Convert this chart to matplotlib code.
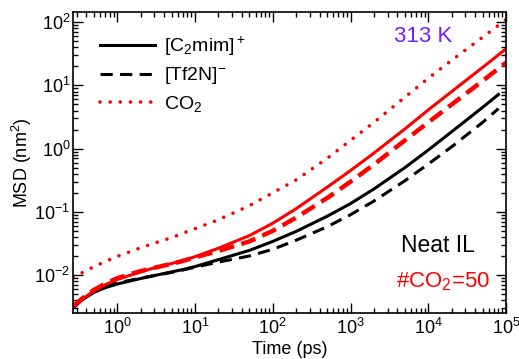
import matplotlib
matplotlib.use("Agg")
import matplotlib.pyplot as plt
from matplotlib.ticker import LogLocator, NullFormatter

plt.rcParams['font.family'] = ['Liberation Sans', 'DejaVu Sans']
plt.rcParams['mathtext.fontset'] = 'custom'
plt.rcParams['mathtext.rm'] = 'Liberation Sans'
plt.rcParams['mathtext.default'] = 'regular'

# MSD curves (nm^2) vs time (ps); the neat-IL runs stop at 8e4 ps
t_long = [0.27, 0.35, 0.5, 0.7, 1, 1.5, 2, 3, 5, 7, 10, 20, 50, 100, 200, 500,
          1000, 2000, 5000, 1e4, 2e4, 5e4, 1e5]
t_short = [0.27, 0.35, 0.5, 0.7, 1, 1.5, 2, 3, 5, 7, 10, 20, 50, 100, 200, 500,
           1000, 2000, 5000, 1e4, 2e4, 5e4, 8e4]

cat_neat = [0.0030, 0.0040, 0.0053, 0.0063, 0.0072, 0.0081, 0.0088, 0.0098, 0.0112, 0.0122,
            0.0136, 0.0175, 0.0245, 0.034, 0.049, 0.085, 0.135, 0.23, 0.50, 0.95,
            1.85, 4.5, 7.2]
an_neat = [0.0030, 0.0041, 0.0055, 0.0066, 0.0075, 0.0083, 0.0089, 0.0098, 0.0110, 0.0120,
           0.0133, 0.0160, 0.0200, 0.0255, 0.0355, 0.058, 0.090, 0.148, 0.31, 0.57,
           1.07, 2.6, 4.3]
cat_co2 = [0.0032, 0.0041, 0.0056, 0.0070, 0.0085, 0.0100, 0.0112, 0.0130, 0.0152, 0.0170,
           0.0195, 0.0265, 0.042, 0.066, 0.112, 0.245, 0.45, 0.85, 2.05, 4.1,
           8.0, 19.3, 38]
an_co2 = [0.0032, 0.0042, 0.0058, 0.0073, 0.0089, 0.0104, 0.0115, 0.0130, 0.0150, 0.0167,
          0.019, 0.024, 0.034, 0.050, 0.081, 0.165, 0.30, 0.56, 1.35, 2.6,
          5.0, 11.8, 23]
co2 = [0.0092, 0.0108, 0.0135, 0.0163, 0.0197, 0.0236, 0.027, 0.032, 0.039, 0.046,
       0.054, 0.075, 0.125, 0.20, 0.32, 0.70, 1.35, 2.6, 6.5, 13,
       25, 58, 110]

fig = plt.figure(figsize=(5.19, 3.59), dpi=100)
ax = fig.add_axes([0.1407, 0.128, 0.8343, 0.8384])

ax.plot(t_short, cat_neat, color='black', lw=2.2, label=r'[C$_2$mim]$^+$')
ax.plot(t_short, an_neat, color='black', lw=2.2, ls=(0, (4.0, 2.4)), label=r'[Tf2N]$^{-}$')
ax.plot(t_long, co2, color='red', lw=2.6, ls=(0, (0.01, 2.8)), dash_capstyle='round',
        label=r'CO$_2$')
ax.plot(t_long, cat_co2, color='red', lw=2.2)
ax.plot(t_long, an_co2, color='red', lw=3.2, ls=(0, (3.4, 1.7)))

ax.set_xscale('log')
ax.set_yscale('log')
ax.set_xlim(0.27, 1e5)
ax.set_ylim(0.0025, 145)

ax.xaxis.set_major_locator(LogLocator(base=10, numticks=10))
ax.yaxis.set_major_locator(LogLocator(base=10, numticks=10))
for axis in (ax.xaxis, ax.yaxis):
    axis.set_minor_locator(LogLocator(base=10, subs=range(2, 10), numticks=20))
    axis.set_minor_formatter(NullFormatter())

ax.tick_params(which='both', direction='in', top=True, right=True, labelsize=13, width=1)
ax.tick_params(which='major', length=7)
ax.tick_params(which='minor', length=3.5)
ax.tick_params(axis='y', pad=2)
for s in ax.spines.values():
    s.set_linewidth(1.2)

ax.set_xlabel('Time (ps)', fontsize=13, labelpad=2)
ax.set_ylabel(r'MSD (nm$^2$)', fontsize=13, labelpad=0)

ax.legend(loc='upper left', bbox_to_anchor=(0.062, 0.925), frameon=False, fontsize=14,
          handlelength=2.85, handletextpad=0.45, labelspacing=0.38, borderaxespad=0,
          borderpad=0)

fig.text(423 / 519, 1 - 37 / 359, '313 K', color='#7b1bff', fontsize=16, ha='center', va='center')
fig.text(438 / 519, 1 - 246 / 359, 'Neat IL', color='black', fontsize=16.5, ha='center', va='center')
fig.text(443 / 519, 1 - 282 / 359, r'#CO$_2$=50', color='red', fontsize=16, ha='center', va='center')

fig.savefig('out.png', dpi=100)
